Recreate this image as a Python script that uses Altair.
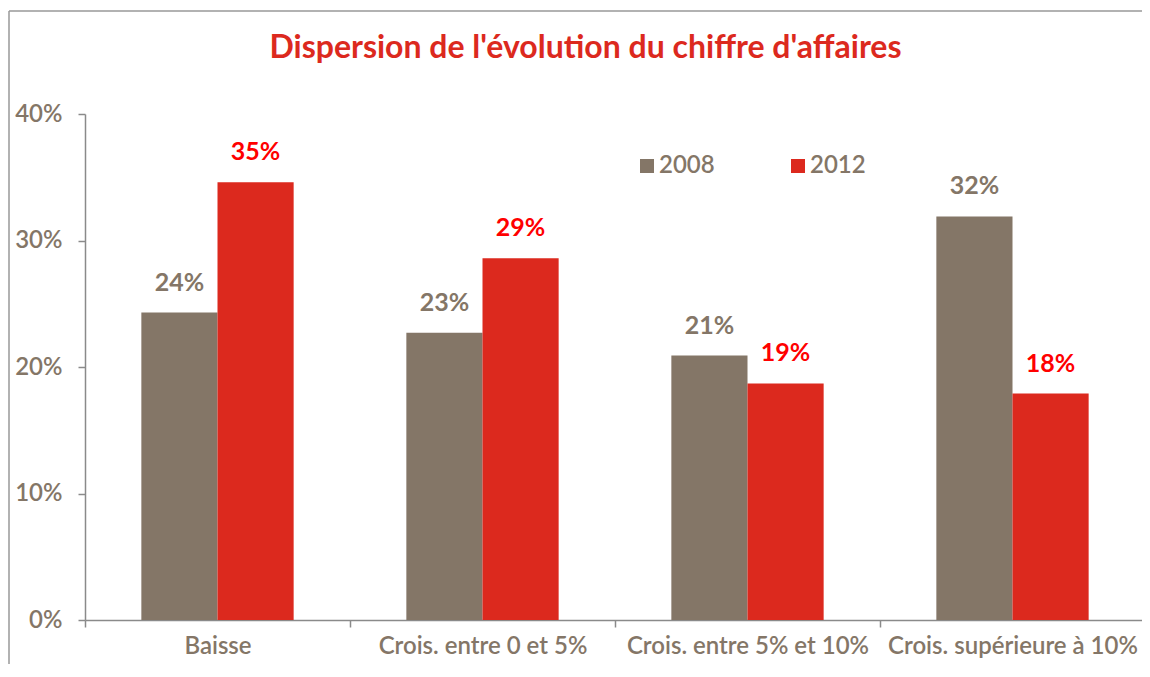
import altair as alt
import pandas as pd

categories = ["Baisse", "Crois. entre 0 et 5%", "Crois. entre 5% et 10%", "Crois. supérieure à 10%"]
series = ["2008", "2012"]
values_2008 = [0.243, 0.227, 0.209, 0.319]
values_2012 = [0.346, 0.286, 0.187, 0.179]
y_ticks = [0, 0.1, 0.2, 0.3, 0.4]

rows = []
for c, a, b in zip(categories, values_2008, values_2012):
    rows.append({"cat": c, "year": "2008", "value": a})
    rows.append({"cat": c, "year": "2012", "value": b})
df = pd.DataFrame(rows)

GRAY = "#847667"
RED = "#DC291E"
LABEL_RED = "#FF0000"
AXIS = "#8a8a8a"
FONT = "Lato"

x = alt.X(
    "cat:N", sort=categories, title=None,
    scale=alt.Scale(paddingInner=0, paddingOuter=0, range=[0, 1060]),
    axis=alt.Axis(labelAngle=0, tickBand="extent", tickSize=7, tickColor=AXIS,
                  tickWidth=1.5, domainColor=AXIS, domainWidth=1.5,
                  labelFontSize=24, labelFont=FONT, labelFontWeight=600,
                  labelColor=GRAY, labelPadding=7, labelLimit=0, grid=False),
)
xo = alt.XOffset("year:N", sort=series, scale=alt.Scale(paddingInner=0, paddingOuter=0.74))
y = alt.Y(
    "value:Q", title=None,
    scale=alt.Scale(domain=[0, 0.4], nice=False),
    axis=alt.Axis(values=y_ticks, format=".0%", grid=False, tickSize=7,
                  tickColor=AXIS, tickWidth=1.5, domainColor=AXIS, domainWidth=1.5,
                  labelFontSize=24, labelFont=FONT, labelFontWeight=600,
                  labelColor=GRAY, labelPadding=16),
)

base = alt.Chart(df)

bars = base.mark_bar().encode(
    x=x, xOffset=xo, y=y,
    color=alt.Color(
        "year:N",
        scale=alt.Scale(domain=series, range=[GRAY, RED]),
        legend=alt.Legend(orient="none", legendX=550, legendY=40, direction="horizontal",
                          title=None, symbolType="square", symbolSize=196,
                          labelFontSize=24, labelColor=GRAY, labelFont=FONT,
                          labelFontWeight=600, columnPadding=71, labelOffset=0,
                          symbolStrokeWidth=0),
    ),
)

labels = base.mark_text(baseline="bottom", dy=-17, fontSize=25, fontWeight="bold", font=FONT).encode(
    x=x, xOffset=xo, y=y,
    text=alt.Text("value:Q", format=".0%"),
    color=alt.Color("year:N", scale=alt.Scale(domain=series, range=[GRAY, LABEL_RED]), legend=None),
)

frame_data = alt.Data(values=[{"k": 1}])
left_border = alt.Chart(frame_data).mark_rule(color="#999999", strokeWidth=1.5).encode(
    x=alt.value(-76), y=alt.value(-103), y2=alt.value(600)
)
top_border = alt.Chart(frame_data).mark_rule(color="#999999", strokeWidth=1.5).encode(
    x=alt.value(-76), x2=alt.value(1100), y=alt.value(-103)
)

chart = alt.layer(bars, labels, left_border, top_border).resolve_scale(
    color="independent"
).properties(
    width=1057,
    height=506,
    autosize=alt.AutoSizeParams(type="none"),
    padding={"left": 77, "top": 106, "right": 0, "bottom": 44},
    background="white",
    title=alt.TitleParams(
        "Dispersion de l'évolution du chiffre d'affaires",
        fontSize=32, font=FONT, fontWeight="bold", color=RED,
        anchor="middle", frame="group", dx=-28, offset=-80, baseline="alphabetic",
    ),
).configure_view(stroke=None)

chart.save("out.html", embed_options={"renderer": "svg", "actions": False})
